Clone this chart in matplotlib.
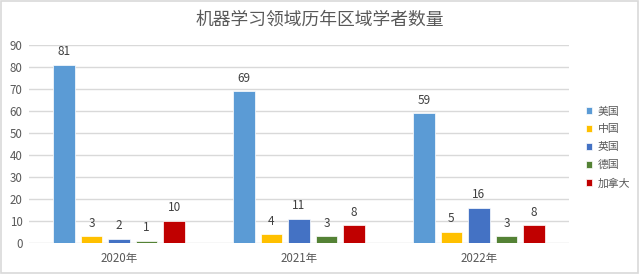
import matplotlib
matplotlib.use("Agg")
import matplotlib.pyplot as plt
import numpy as np

plt.rcParams['font.family'] = ['Noto Sans CJK SC', 'DejaVu Sans']

years = ["2020年", "2021年", "2022年"]
countries = ["美国", "中国", "英国", "德国", "加拿大"]
values = {
    "美国": [81, 69, 59],
    "中国": [3, 4, 5],
    "英国": [2, 11, 16],
    "德国": [1, 3, 3],
    "加拿大": [10, 8, 8],
}
colors = ["#5B9BD5", "#FFC000", "#4472C4", "#548235", "#C00000"]
grey = "#595959"

fig = plt.figure(figsize=(6.4, 2.74), dpi=100)
ax = fig.add_axes([0.0453, 0.1131, 0.84375, 0.7226])

x = np.arange(len(years))
pitch = 0.153
width = 0.12
for i, name in enumerate(countries):
    pos = x + (i - 2) * pitch
    bars = ax.bar(pos, values[name], width, color=colors[i], label=name,
                  edgecolor="white", linewidth=0.5, zorder=3)
    # value labels above each bar
    for b, v in zip(bars, values[name]):
        ax.text(b.get_x() + b.get_width() / 2, v + 3.0, str(v),
                ha="center", va="bottom", fontsize=8.5, color="#404040")

ax.set_xlim(-0.5, 2.5)
ax.set_ylim(0, 90)
ax.set_yticks(range(0, 91, 10))
ax.set_xticks(x)
ax.set_xticklabels(years)
ax.tick_params(length=0, labelsize=8.3, colors=grey)
ax.tick_params(axis="y", pad=4.5)
ax.tick_params(axis="x", pad=6.5)
ax.grid(axis="y", color="#D9D9D9", linewidth=1, zorder=0)
for s in ax.spines.values():
    s.set_visible(False)

fig.text(0.5, 1 - 19.5 / 274, "机器学习领域历年区域学者数量", ha="center", va="center",
         fontsize=12.8, color=grey)

leg = fig.legend(loc="center left", bbox_to_anchor=(0.9156, 0.462), frameon=False,
                 fontsize=7.8, handlelength=0.6, handleheight=0.6, handletextpad=0.5,
                 labelspacing=0.72, borderaxespad=0, borderpad=0)
for t in leg.get_texts():
    t.set_color(grey)

# light grey frame around the whole chart
fig.patches.append(plt.Rectangle((0.002, 0.004), 0.995, 0.992, transform=fig.transFigure,
                                 fill=False, edgecolor="#D9D9D9", linewidth=1.2))

fig.savefig("out.png", dpi=100)
